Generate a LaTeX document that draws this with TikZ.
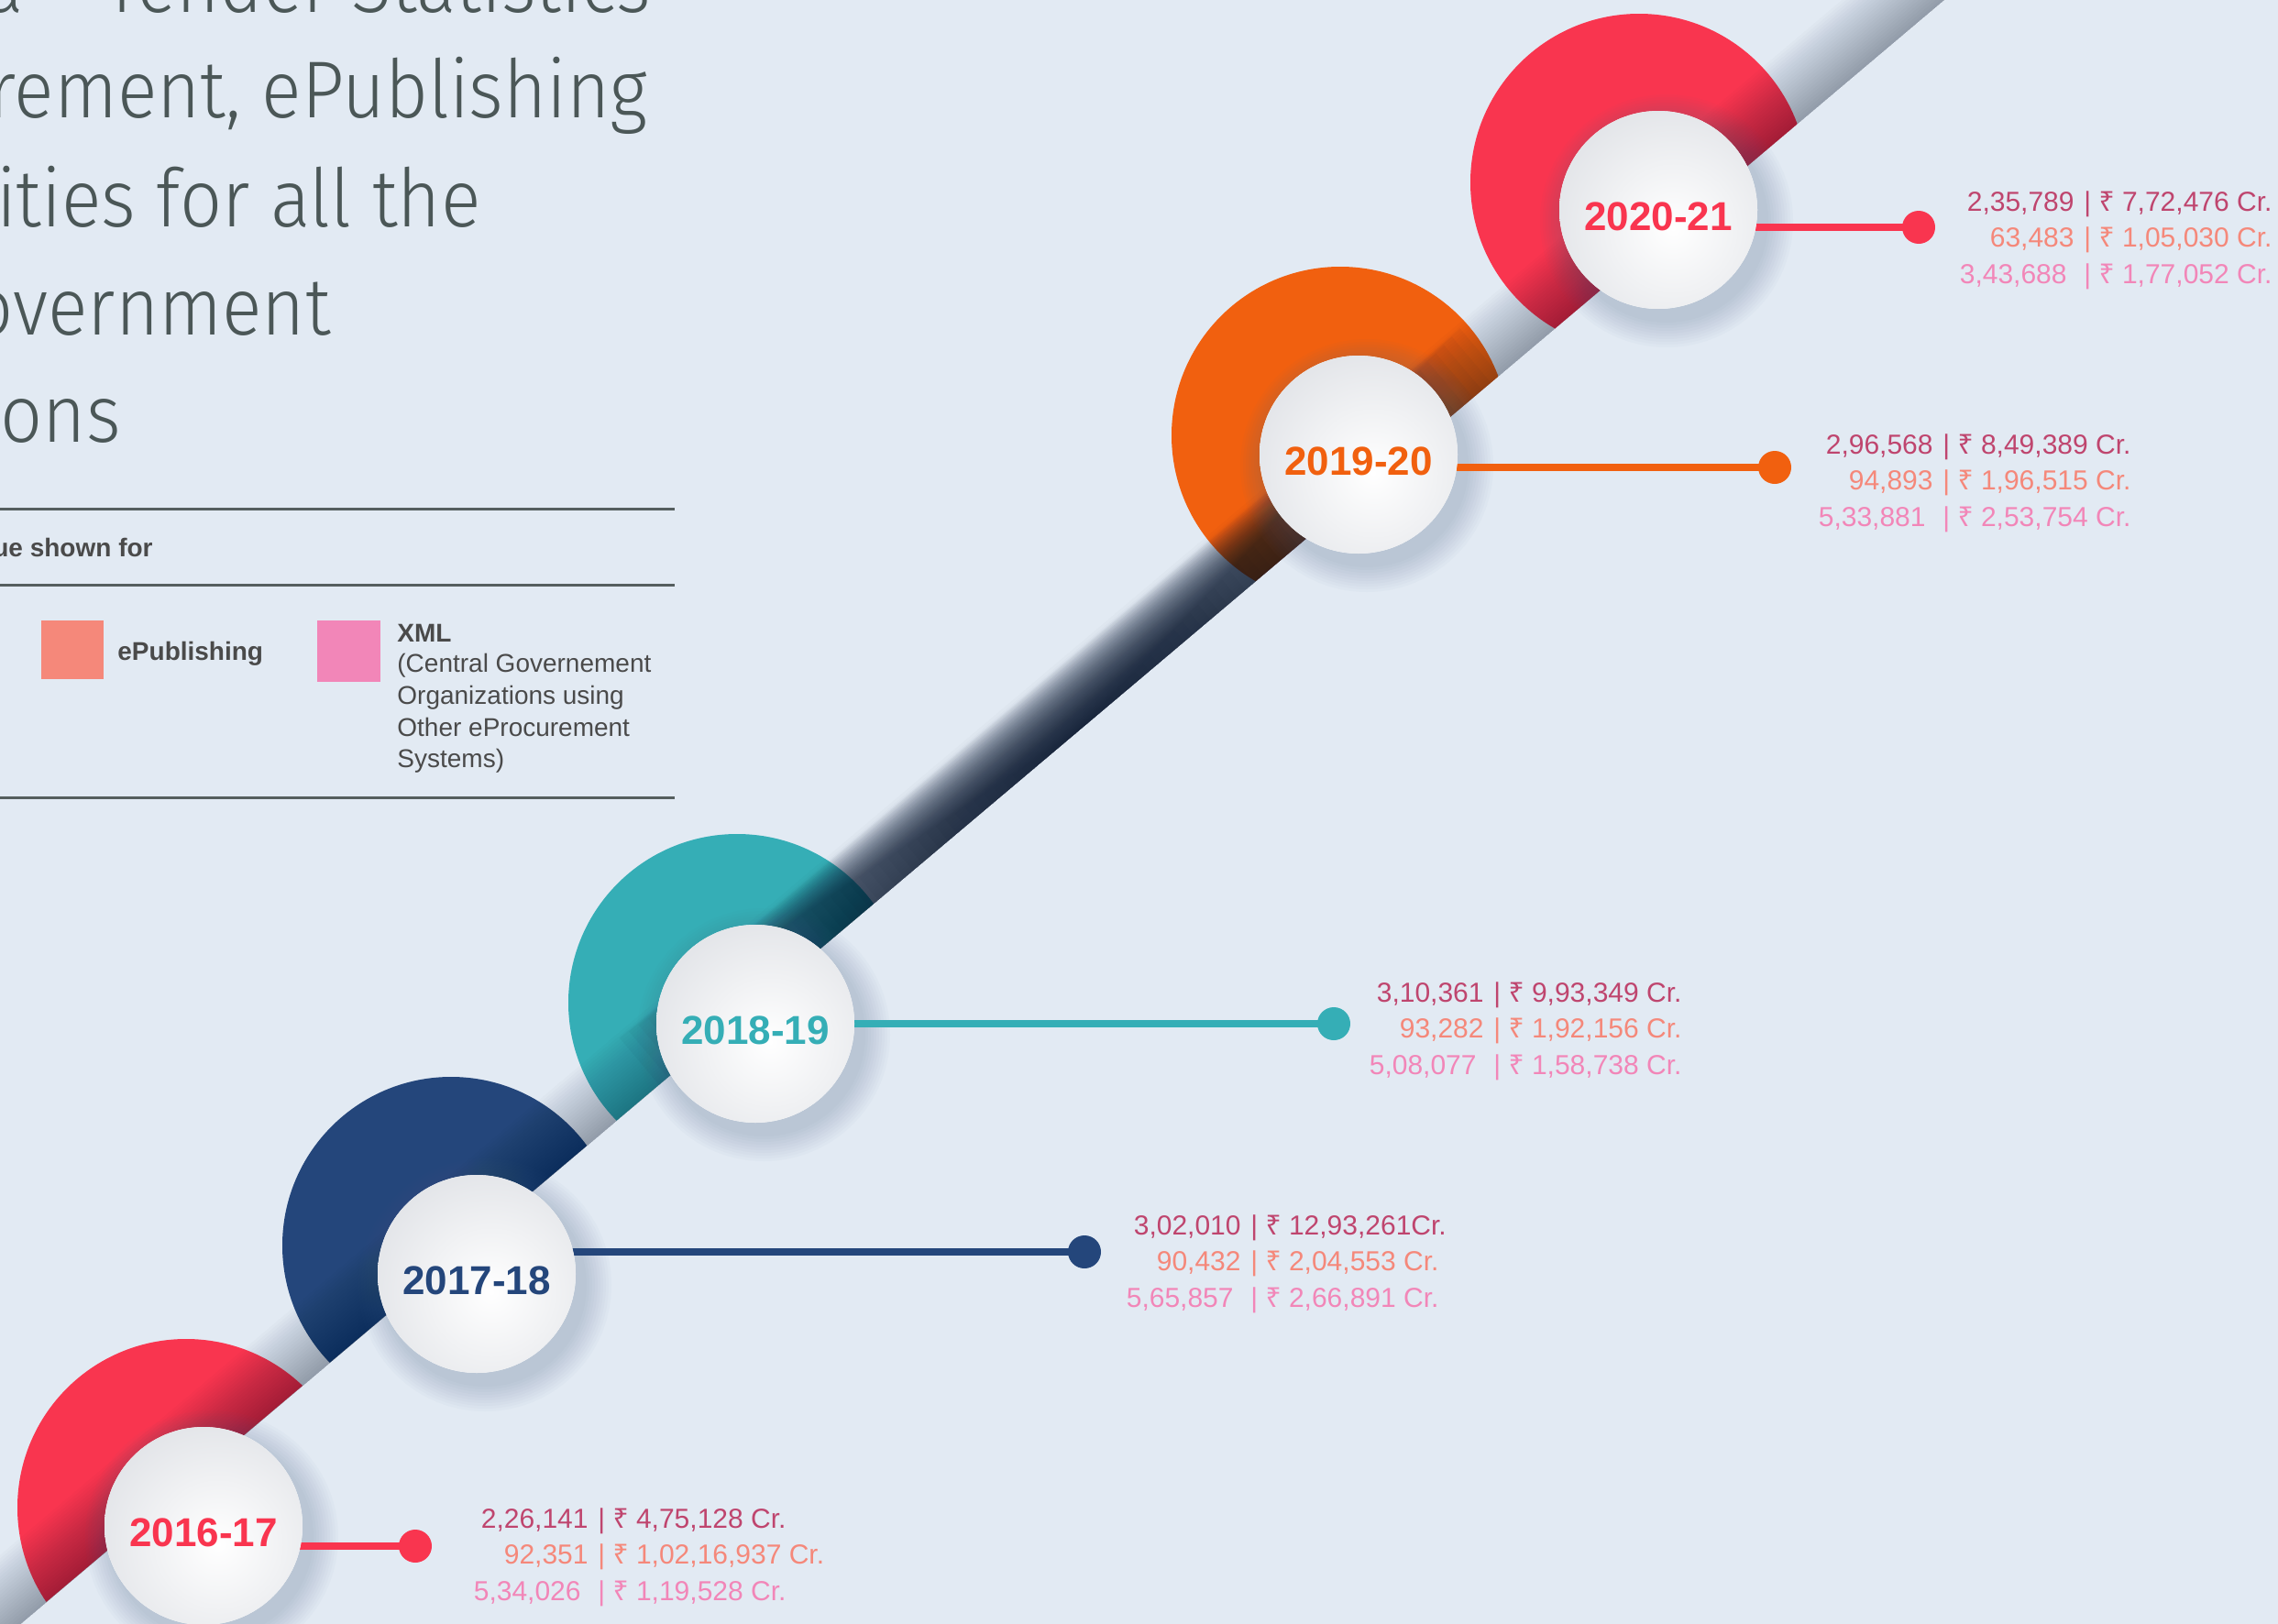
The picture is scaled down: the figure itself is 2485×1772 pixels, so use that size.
\documentclass[tikz,border=0pt]{standalone}
\usepackage{fontspec}
\setmainfont{Liberation Sans}
\newfontfamily\titlefont{Fira Sans Light}[FakeStretch=0.92]
\newfontfamily\rupeefont{Noto Sans}
\newcommand{\rs}{{\rupeefont ₹}}
\usetikzlibrary{calc}
\definecolor{bgc}{HTML}{E2EAF3}
\definecolor{bandc}{HTML}{0A1830}
\definecolor{redc}{HTML}{F9354F}
\definecolor{orangec}{HTML}{F1600F}
\definecolor{tealc}{HTML}{35AEB6}
\definecolor{navyc}{HTML}{24467B}
\definecolor{titlec}{HTML}{4B5757}
\definecolor{legc}{HTML}{4A4A4A}
\definecolor{rulec}{HTML}{555E5E}
\definecolor{totc}{HTML}{BF456E}
\definecolor{epubc}{HTML}{F5887A}
\definecolor{xmlc}{HTML}{F286B8}
\definecolor{shadc}{HTML}{50688A}
\definecolor{circedge}{HTML}{E2E4E8}
\tikzset{
  titletxt/.style={font=\titlefont\fontsize{44}{50}\selectfont, text=titlec, inner sep=0},
  legbold/.style={font=\fontsize{14}{17}\selectfont\bfseries, text=legc, inner sep=0},
  legtxt/.style={font=\fontsize{14}{17}\selectfont, text=legc, inner sep=0},
  datatxt/.style={font=\fontsize{15}{18}\selectfont, inner sep=0},
  whitecirc/.style={circle, minimum size=108pt, inner sep=0, fill=white},
  yeartxt/.style={font=\fontsize{22}{26}\selectfont\bfseries, inner sep=0},
  dotnode/.style={circle, inner sep=0, minimum size=18pt},
  conn/.style={line width=4pt},
  legrule/.style={rulec, line width=1.5pt},
}
\newcommand{\yearitem}[7]{%
  \coordinate (c#1) at (#2,#3);
  \foreach \k in {1,...,10}{\fill[shadc, opacity=0.028] ({#2+9},{#3+12}) circle ({108+3*\k});}
  \node[dotnode, fill=#6] (d#1) at (#4,#5) {};
  \draw[conn, #6] (d#1.center) -- (d#1.center -| c#1);
  \node[whitecirc] (w#1) at (c#1) {};
  \begin{scope}
    \clip (c#1) circle (108);
    \shade[inner color=white, outer color=circedge] ({#2+16},{#3+20}) circle (140);
  \end{scope}
  \node[yeartxt, text=#6] (y#1) at ($(c#1)+(0,7)$) {#7};
}
\newcommand{\datablock}[9]{%
  \node[datatxt, text=totc, anchor=base east] (#1n1) at ({#2-14},#3) {#4};
  \node[datatxt, text=totc, anchor=base west] (#1v1) at ({#2-4},#3) {| \rs\ #5};
  \node[datatxt, text=epubc, anchor=base east] (#1n2) at ({#2-14},{#3+39.5}) {#6};
  \node[datatxt, text=epubc, anchor=base west] (#1v2) at ({#2-4},{#3+39.5}) {| \rs\ #7};
  \node[datatxt, text=xmlc, anchor=base east] (#1n3) at ({#2-22},{#3+79}) {#8};
  \node[datatxt, text=xmlc, anchor=base west] (#1v3) at ({#2-4},{#3+79}) {| \rs\ #9};
}
\begin{document}
\begin{tikzpicture}[x=0.5pt,y=-0.5pt]
\useasboundingbox (0,0) rectangle (2485,1772);
\fill[bgc] (0,0) rectangle (2485,1772);
\clip (0,0) rectangle (2485,1772);
% title
\node[titletxt, anchor=base east] (t1) at (710,13) {a – Tender Statistics};
\node[titletxt, anchor=base east] (t2) at (707,128) {rement, ePublishing};
\node[titletxt, anchor=base east] (t3) at (525,247) {ities for all the};
\node[titletxt, anchor=base east] (t4) at (361,365) {overnment};
\node[titletxt, anchor=base east] (t5) at (132,482) {ons};
% legend
\draw[legrule] (0,555) -- (736,555);
\draw[legrule] (0,638) -- (736,638);
\draw[legrule] (0,870) -- (736,870);
\node[legbold, anchor=base east] (lg0) at (167,607) {ue shown for};
\fill[epubc] (45,677) rectangle (113,741);
\fill[xmlc] (346,677) rectangle (415,744);
\node[legbold, anchor=base west] (lg1) at (128,720) {ePublishing};
\node[legbold, anchor=base west] (lg2) at (433,700) {XML};
\node[legtxt, anchor=base west] (lg3) at (433,733) {(Central Governement};
\node[legtxt, anchor=base west] (lg4) at (433,768) {Organizations using};
\node[legtxt, anchor=base west] (lg5) at (433,803) {Other eProcurement};
\node[legtxt, anchor=base west] (lg6) at (433,837) {Systems)};
% discs
\begin{scope}
\clip (-100,1875) -- (2600,-404.5) -- (-100,-404.5) -- cycle;
\fill[redc] (1788,199) circle (184);
\fill[orangec] (1462,475) circle (184);
\fill[tealc] (804,1094) circle (184);
\fill[navyc] (492,1359) circle (184);
\fill[redc] (203,1645) circle (184);
\end{scope}
% band shadow
\begin{scope}[transform canvas={shift={(360,1487)},rotate=40.18}]
\foreach \k in {1,...,24}{\fill[bandc,opacity=0.015] (-480,{-3*\k}) rectangle (2340,0);}
\foreach \j in {1,...,48}{\fill[bandc,opacity=0.037] ({1070-12.5*\j},{-1.4*\j}) rectangle ({1070+12.5*\j},0);}
\end{scope}
% years
\yearitem{20}{1809}{229}{2093}{248}{redc}{2020-21}
\yearitem{19}{1482}{496}{1936}{510}{orangec}{2019-20}
\yearitem{18}{824}{1117}{1455}{1117}{tealc}{2018-19}
\yearitem{17}{520}{1390}{1183}{1366}{navyc}{2017-18}
\yearitem{16}{222}{1665}{453}{1687}{redc}{2016-17}
% data
\datablock{t20}{2277}{230}{2,35,789}{7,72,476 Cr.}{63,483}{1,05,030 Cr.}{3,43,688}{1,77,052 Cr.}
\datablock{t19}{2123}{495}{2,96,568}{8,49,389 Cr.}{94,893}{1,96,515 Cr.}{5,33,881}{2,53,754 Cr.}
\datablock{t18}{1633}{1093}{3,10,361}{9,93,349 Cr.}{93,282}{1,92,156 Cr.}{5,08,077}{1,58,738 Cr.}
\datablock{t17}{1368}{1347}{3,02,010}{12,93,261Cr.}{90,432}{2,04,553 Cr.}{5,65,857}{2,66,891 Cr.}
\datablock{t16}{656}{1667}{2,26,141}{4,75,128 Cr.}{92,351}{1,02,16,937 Cr.}{5,34,026}{1,19,528 Cr.}
\end{tikzpicture}
\end{document}
